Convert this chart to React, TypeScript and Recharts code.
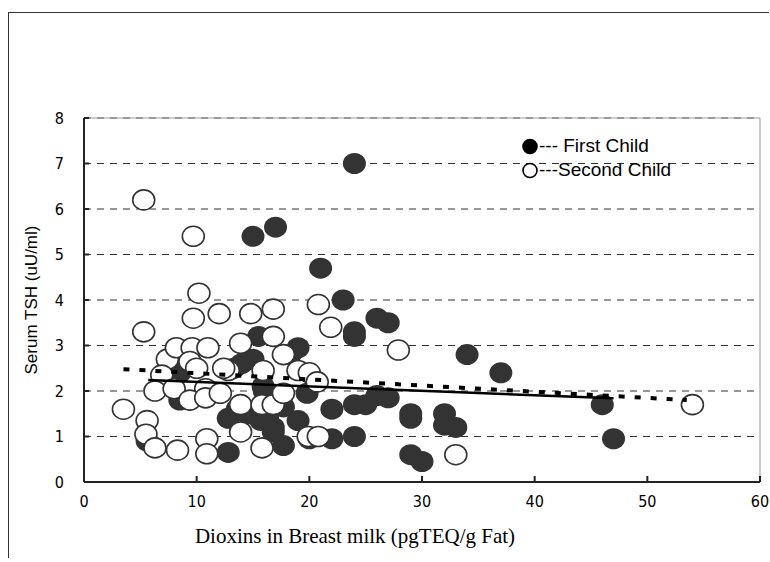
import { CartesianGrid, ReferenceLine, Scatter, ScatterChart, XAxis, YAxis } from 'recharts'

// dioxins (pgTEQ/g fat) vs serum TSH (uU/ml)
const firstChild = [
  { x: 24, y: 7.0 }, { x: 15, y: 5.4 }, { x: 17, y: 5.6 }, { x: 21, y: 4.7 },
  { x: 23, y: 4.0 }, { x: 24, y: 3.3 }, { x: 24, y: 3.2 }, { x: 26, y: 3.6 },
  { x: 27, y: 3.5 }, { x: 34, y: 2.8 }, { x: 37, y: 2.4 }, { x: 46, y: 1.7 },
  { x: 47, y: 0.95 }, { x: 29, y: 0.6 }, { x: 30, y: 0.45 }, { x: 29, y: 1.5 },
  { x: 29, y: 1.4 }, { x: 32, y: 1.5 }, { x: 32, y: 1.25 }, { x: 33, y: 1.2 },
  { x: 19, y: 2.95 }, { x: 26, y: 1.9 }, { x: 27, y: 1.85 }, { x: 22, y: 1.6 },
  { x: 24, y: 1.7 }, { x: 25, y: 1.7 }, { x: 22, y: 0.95 }, { x: 24, y: 1.0 },
  { x: 17.7, y: 0.8 }, { x: 19, y: 1.35 }, { x: 16.8, y: 1.2 }, { x: 15.7, y: 1.35 },
  { x: 19.8, y: 1.95 }, { x: 18.3, y: 2.8 }, { x: 15.9, y: 2.1 }, { x: 17.7, y: 1.65 },
  { x: 20, y: 0.95 }, { x: 14.5, y: 1.5 }, { x: 15, y: 2.7 }, { x: 13.3, y: 2.5 },
  { x: 8.5, y: 2.4 }, { x: 8.5, y: 1.8 }, { x: 12.8, y: 1.4 }, { x: 13.6, y: 1.6 },
  { x: 16.3, y: 1.45 }, { x: 16.8, y: 1.1 }, { x: 12.8, y: 0.65 }, { x: 5.6, y: 0.9 },
  { x: 15.5, y: 3.2 }, { x: 14, y: 2.6 }, { x: 16, y: 2.0 },
]

const secondChild = [
  { x: 5.3, y: 6.2 }, { x: 9.7, y: 5.4 }, { x: 10.2, y: 4.15 }, { x: 9.7, y: 3.6 },
  { x: 12, y: 3.7 }, { x: 14.8, y: 3.7 }, { x: 16.8, y: 3.8 }, { x: 5.3, y: 3.3 },
  { x: 7.4, y: 2.7 }, { x: 8.2, y: 2.95 }, { x: 9.6, y: 2.95 }, { x: 11, y: 2.95 },
  { x: 9.4, y: 2.65 }, { x: 10, y: 2.5 }, { x: 6.9, y: 2.35 }, { x: 6.3, y: 2.0 },
  { x: 8, y: 2.05 }, { x: 10.8, y: 2.05 }, { x: 9.4, y: 1.8 }, { x: 10.8, y: 1.85 },
  { x: 3.5, y: 1.6 }, { x: 5.6, y: 1.35 }, { x: 5.5, y: 1.05 }, { x: 6.3, y: 0.75 },
  { x: 8.3, y: 0.7 }, { x: 10.9, y: 0.95 }, { x: 10.9, y: 0.62 }, { x: 20.8, y: 3.9 },
  { x: 21.9, y: 3.4 }, { x: 16.8, y: 3.2 }, { x: 13.9, y: 3.05 }, { x: 17.7, y: 2.8 },
  { x: 12.8, y: 2.45 }, { x: 15.9, y: 2.45 }, { x: 19, y: 2.45 }, { x: 20, y: 2.4 },
  { x: 20.7, y: 2.2 }, { x: 13.9, y: 1.7 }, { x: 15.8, y: 1.7 }, { x: 16.8, y: 1.7 },
  { x: 17.7, y: 1.95 }, { x: 13.9, y: 1.1 }, { x: 15.8, y: 0.75 }, { x: 19.9, y: 1.0 },
  { x: 20.8, y: 1.0 }, { x: 12.1, y: 1.95 }, { x: 27.9, y: 2.9 }, { x: 33, y: 0.6 },
  { x: 54, y: 1.7 }, { x: 12.4, y: 2.5 },
]

// regression lines (endpoints)
const firstTrend = [{ x: 5.7, y: 2.24 }, { x: 47, y: 1.84 }]
const secondTrend = [{ x: 3.5, y: 2.48 }, { x: 53.5, y: 1.8 }]

const xTicks = [0, 10, 20, 30, 40, 50, 60]
const yTicks = [0, 1, 2, 3, 4, 5, 6, 7, 8]

const tickFont = {
  fill: '#000',
  fontSize: 16,
  fontFamily: "'DejaVu Sans', sans-serif",
  fontStretch: 'condensed',
}

const FilledDot = (p: any) => <ellipse cx={p.cx} cy={p.cy} rx={11.5} ry={10.5} fill='#333' />
const OpenDot = (p: any) => (
  <ellipse cx={p.cx} cy={p.cy} rx={11} ry={10} fill='#fff' stroke='#333' strokeWidth={1.6} />
)
const NoDot = () => <g />

export default function App() {
  return (
    <div
      style={{
        position: 'absolute',
        left: 8,
        top: 12,
        width: 760,
        height: 545,
        borderTop: '1px solid #333',
        borderLeft: '1px solid #333',
      }}
    >
      <ScatterChart width={760} height={545} margin={{ top: 105, right: 9, left: 30, bottom: 6 }}>
        <CartesianGrid vertical={false} stroke='#333' strokeDasharray='7 6' />
        <XAxis
          type='number'
          dataKey='x'
          domain={[0, 60]}
          ticks={xTicks}
          height={70}
          stroke='#222'
          strokeWidth={2}
          tickSize={-6}
          tickMargin={20}
          tick={tickFont}
          label={{
            value: 'Dioxins in Breast milk (pgTEQ/g Fat)',
            position: 'insideBottom',
            offset: 9,
            dx: -67,
            style: { fill: '#000', fontSize: 21, fontFamily: "'Liberation Serif', 'Times New Roman', serif" },
          }}
        />
        <YAxis
          type='number'
          dataKey='y'
          domain={[0, 8]}
          ticks={yTicks}
          width={45}
          stroke='#222'
          strokeWidth={2}
          tickSize={-5}
          tickMargin={25}
          tick={tickFont}
          label={{
            value: 'Serum TSH (uU/ml)',
            angle: -90,
            position: 'center',
            dx: -31,
            style: { fill: '#000', fontSize: 17, fontFamily: "'Liberation Sans', Arial, sans-serif", textAnchor: 'middle' },
          }}
        />
        <ReferenceLine y={8} stroke='#999' strokeWidth={1} />
        <ReferenceLine x={60} stroke='#999' strokeWidth={1} />
        <Scatter data={firstChild} shape={FilledDot} isAnimationActive={false} />
        <Scatter data={secondChild} shape={OpenDot} isAnimationActive={false} />
        <Scatter
          data={firstTrend}
          shape={NoDot}
          line={{ stroke: '#000', strokeWidth: 2.5 }}
          isAnimationActive={false}
        />
        <Scatter
          data={secondTrend}
          shape={NoDot}
          line={{ stroke: '#000', strokeWidth: 4, strokeDasharray: '6 10' }}
          isAnimationActive={false}
        />
      </ScatterChart>
      <div
        style={{
          position: 'absolute',
          left: 513,
          top: 121,
          fontFamily: "'Liberation Sans', Arial, sans-serif",
          fontSize: 19,
          color: '#000',
          lineHeight: '24px',
          whiteSpace: 'nowrap',
        }}
      >
        <div style={{ display: 'flex', alignItems: 'center' }}>
          <svg width={17} height={17}>
            <circle cx={8} cy={8.5} r={7.8} fill='#000' />
          </svg>
          <span>--- First Child</span>
        </div>
        <div style={{ display: 'flex', alignItems: 'center' }}>
          <svg width={17} height={17}>
            <circle cx={8} cy={8.5} r={7} fill='#fff' stroke='#000' strokeWidth={1.6} />
          </svg>
          <span>---Second Child</span>
        </div>
      </div>
    </div>
  )
}
